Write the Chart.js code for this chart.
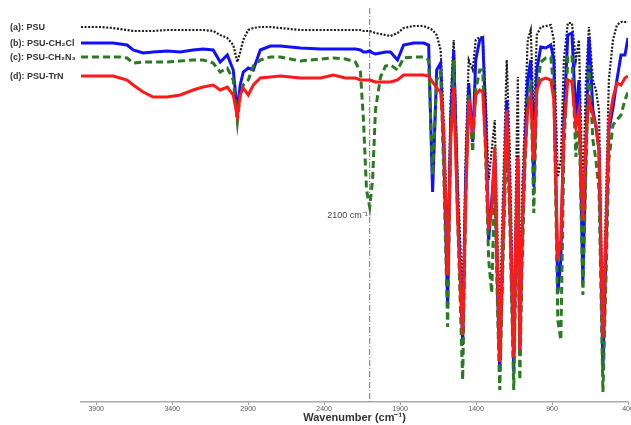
<!DOCTYPE html>
<html>
<head>
<meta charset="utf-8">
<script src="https://cdn.jsdelivr.net/npm/chart.js@4/dist/chart.umd.min.js"></script>
<style>
  body { margin: 0; background: #fff; }
</style>
</head>
<body>
<canvas id="ftir" width="631" height="425"></canvas>
<script>
// FTIR spectra, transmittance in arbitrary (offset) units
const wavenumbers = [
    4000, 3875, 3789, 3743, 3697, 3657, 3591, 3525, 3433, 3347, 3262, 3196, 3130, 3084, 3037, 2998, 2971, 2952, 2932, 2899, 2866,
    2820, 2754, 2688, 2556, 2424, 2339, 2259, 2194, 2161, 2141, 2121, 2100, 2081, 2062, 2029, 1996, 1963, 1917, 1877, 1811, 1745,
    1712, 1686, 1659, 1633, 1613, 1587, 1567, 1547, 1521, 1488, 1468, 1448, 1422, 1402, 1376, 1356, 1336, 1317, 1297, 1277,
    1257, 1244, 1224, 1198, 1178, 1152, 1139, 1125, 1112, 1099, 1079, 1060, 1040, 1020, 1000, 974, 941, 908, 888, 862,
    842, 822, 796, 769, 743, 723, 697, 677, 657, 631, 611, 591, 565, 545, 526, 499, 473, 446, 420, 400
];

const psu = [
    375, 375, 374, 373, 372, 371, 371, 371, 372, 372, 372, 372, 371, 367, 364, 357, 340, 350, 362, 372, 374,
    375, 375, 374, 372, 372, 372, 372, 372, 372, 371, 371, 371, 370, 369, 368, 367, 366, 369, 374, 376, 376,
    374, 372, 367, 352, 282, 162, 302, 362, 222, 102, 252, 342, 332, 362, 365, 365, 302, 222, 252, 282,
    152, 82, 202, 342, 252, 72, 202, 325, 82, 202, 282, 362, 372, 282, 367, 375, 376, 377, 362, 225,
    242, 342, 379, 379, 342, 362, 202, 322, 375, 322, 312, 292, 72, 202, 322, 362, 377, 380, 380, 380
];

const psuCH2Cl = [
    359, 359, 359, 358, 357, 352, 349, 350, 351, 350, 352, 353, 352, 340, 347, 332, 290, 317, 330, 334, 332,
    352, 356, 356, 354, 353, 353, 353, 353, 352, 350, 350, 351, 349, 348, 349, 350, 350, 342, 357, 359, 359,
    357, 210, 332, 339, 252, 97, 282, 352, 202, 57, 222, 319, 260, 342, 362, 364, 282, 162, 202, 242,
    102, 30, 152, 302, 202, 30, 152, 242, 47, 152, 252, 322, 342, 215, 332, 355, 354, 357, 342, 109,
    142, 282, 367, 369, 285, 322, 119, 252, 365, 292, 275, 252, 32, 152, 272, 294, 322, 347, 347, 364
];

const psuCH2N3 = [
    345, 345, 345, 345, 344, 339, 340, 340, 340, 341, 342, 342, 339, 330, 334, 322, 280, 307, 317, 322, 336,
    342, 345, 345, 341, 343, 344, 343, 340, 330, 282, 212, 195, 222, 292, 325, 336, 337, 332, 344, 345, 345,
    342, 227, 322, 330, 232, 75, 262, 342, 182, 22, 202, 307, 250, 312, 332, 332, 242, 142, 109, 222,
    82, 12, 132, 272, 182, 12, 122, 222, 22, 122, 232, 302, 322, 189, 312, 340, 344, 345, 312, 82,
    62, 252, 345, 347, 245, 292, 107, 232, 337, 262, 242, 212, 10, 122, 242, 277, 282, 287, 302, 310
];

const psuTrN = [
    326, 326, 326, 324, 322, 317, 310, 305, 305, 307, 312, 315, 317, 312, 315, 307, 285, 307, 314, 307, 317,
    324, 325, 326, 324, 324, 327, 324, 324, 322, 322, 322, 322, 321, 320, 320, 320, 320, 322, 327, 327, 327,
    326, 320, 314, 310, 272, 127, 262, 315, 182, 67, 202, 302, 269, 307, 312, 310, 252, 172, 192, 255,
    122, 40, 162, 292, 202, 45, 162, 245, 52, 162, 245, 292, 305, 242, 312, 322, 324, 322, 302, 142,
    162, 272, 322, 320, 275, 292, 182, 262, 302, 287, 277, 252, 65, 172, 279, 304, 319, 317, 324, 326
];

const seriesNames = ['(a): PSU', '(b): PSU-CH\u2082Cl', '(c): PSU-CH\u2082N\u2083', '(d): PSU-TrN'];
const tickValues = [3900, 3400, 2900, 2400, 1900, 1400, 900, 400];
const markerWavenumber = 2100;
const markerLabel = '2100 cm\u207B\u00B9';

const FONT = "'Liberation Sans', Arial, sans-serif";

function toPoints(values) {
    return wavenumbers.map((wn, i) => ({ x: wn, y: values[i] }));
}

const annotations = {
    id: 'annotations',
    beforeDatasetsDraw(chart) {
        const { ctx, chartArea, scales } = chart;
        const x = scales.x.getPixelForValue(markerWavenumber);
        ctx.save();
        ctx.strokeStyle = '#777';
        ctx.lineWidth = 1;
        ctx.setLineDash([6, 2, 1, 2]);
        ctx.beginPath();
        ctx.moveTo(x, chartArea.top - 4);
        ctx.lineTo(x, chartArea.bottom);
        ctx.stroke();
        ctx.restore();
    },
    afterDraw(chart) {
        const { ctx, scales } = chart;
        const x = scales.x.getPixelForValue(markerWavenumber);
        ctx.save();
        ctx.fillStyle = '#444';
        ctx.font = '9px ' + FONT;
        ctx.textAlign = 'right';
        ctx.textBaseline = 'middle';
        ctx.fillText(markerLabel, x - 2, 216);

        ctx.font = 'bold 9px ' + FONT;
        ctx.textAlign = 'left';
        ctx.fillStyle = '#333';
        chart.data.datasets.forEach((ds) => {
            const y = scales.y.getPixelForValue(ds.data[0].y);
            ctx.fillText(ds.label, 10, y + 1);
        });
        ctx.restore();
    }
};

new Chart(
    document.getElementById('ftir'),
    {
        type: 'line',
        data: {
            datasets: [
                {
                    label: seriesNames[0],
                    data: toPoints(psu),
                    borderColor: '#1a1a1a',
                    borderWidth: 2.2,
                    borderDash: [2, 1.6],
                    order: 3
                },
                {
                    label: seriesNames[1],
                    data: toPoints(psuCH2Cl),
                    borderColor: '#1010ff',
                    borderWidth: 3,
                    order: 2
                },
                {
                    label: seriesNames[2],
                    data: toPoints(psuCH2N3),
                    borderColor: '#2a7a22',
                    borderWidth: 3,
                    borderDash: [7, 4],
                    order: 1
                },
                {
                    label: seriesNames[3],
                    data: toPoints(psuTrN),
                    borderColor: '#ff1a1a',
                    borderWidth: 3,
                    order: 0
                }
            ]
        },
        options: {
            responsive: false,
            animation: false,
            devicePixelRatio: 1,
            layout: { padding: { left: 81, right: 3, top: 12, bottom: 0 } },
            elements: {
                point: { radius: 0 },
                line: { tension: 0, fill: false }
            },
            plugins: {
                legend: { display: false },
                tooltip: { enabled: false }
            },
            scales: {
                x: {
                    type: 'linear',
                    reverse: true,
                    min: 400,
                    max: 4000,
                    afterBuildTicks: s => { s.ticks = tickValues.map(v => ({ value: v })); },
                    afterFit: s => { s.paddingLeft = 0; s.paddingRight = 0; s.height = 23; },
                    grid: { display: true, drawOnChartArea: false, tickLength: 3, color: '#999' },
                    border: { display: true, color: '#aaa', width: 1.5 },
                    ticks: {
                        font: { family: FONT, size: 7 },
                        color: '#555',
                        padding: 0,
                        maxRotation: 0,
                        autoSkip: false,
                        callback: v => String(v)
                    },
                    title: {
                        display: true,
                        text: 'Wavenumber (cm\u207B\u00B9)',
                        font: { family: FONT, size: 11, weight: 'bold' },
                        color: '#333',
                        padding: { top: 0, bottom: 0 }
                    }
                },
                y: {
                    display: false,
                    min: 0,
                    max: 390
                }
            }
        },
        plugins: [annotations]
    }
);
</script>
</body>
</html>
